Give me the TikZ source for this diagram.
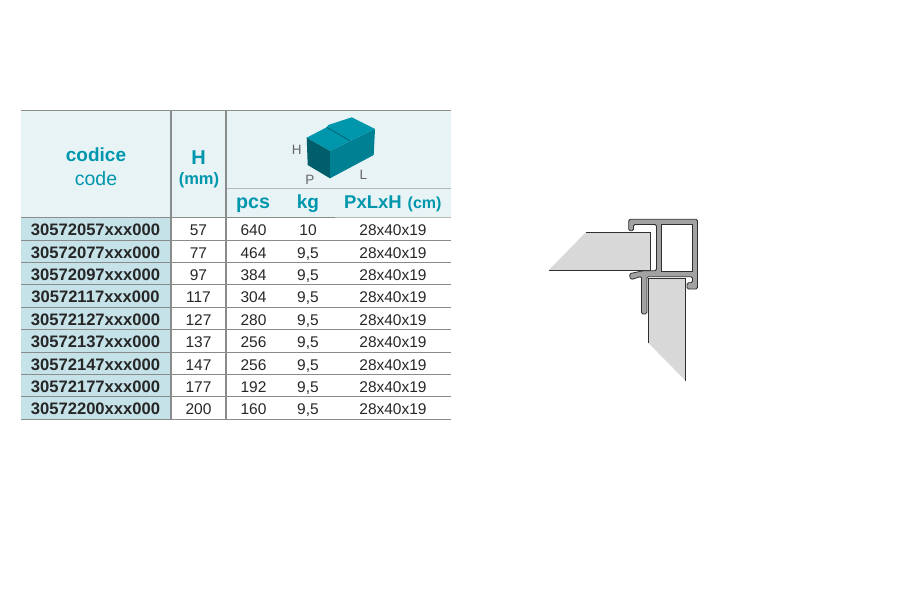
\documentclass[tikz,border=0pt]{standalone}
\usepackage{xcolor}
\usepackage{fontspec}
\setmainfont{Liberation Sans}
\usetikzlibrary{positioning}
\definecolor{teal1}{HTML}{0097AD}
\definecolor{headbg}{HTML}{E8F3F6}
\definecolor{codebg}{HTML}{C5E2E8}
\definecolor{rule1}{HTML}{8A8C8C}
\definecolor{rule2}{HTML}{B5B7B7}
\definecolor{panel}{HTML}{D8D8D8}
\definecolor{metal}{HTML}{A2A2A2}
\definecolor{ink}{HTML}{2F2F2F}

\begin{document}
\begin{tikzpicture}[
    x=1pt, y=-1pt,
    head/.style={inner sep=0pt, anchor=base, text=teal1, font=\bfseries\fontsize{19}{22}\selectfont},
    codecell/.style={inner sep=0pt, anchor=base, text=black!85, font=\bfseries\fontsize{16.6}{19}\selectfont},
    cell/.style={inner sep=0pt, anchor=base, text=black!85, font=\fontsize{15.5}{18}\selectfont},
    boxlabel/.style={inner sep=0pt, text=black!60, font=\fontsize{13.5}{16}\selectfont},
    tablerule/.style={draw=rule1, line width=.9pt},
    glass/.style={fill=panel, draw=none},
    glassedge/.style={draw=ink, line width=.9pt}
]
\useasboundingbox (0,0) rectangle (900,600);

% table backgrounds
\fill[headbg] (21,110) rectangle (451,218);
\fill[codebg] (21,218) rectangle (171,420);

% header
\node[head] (codice) at (96,161.7) {codice};
\node[head, font=\fontsize{19.5}{22}\selectfont] (codeen) at (96,185) {code};
\node[head, font=\bfseries\fontsize{20}{22}\selectfont] (hh) at (198.5,164) {H};
\node[head, font=\bfseries\fontsize{16.5}{20}\selectfont] (mm) at (199,184) {(mm)};
\node[head, font=\bfseries\fontsize{19.7}{22}\selectfont] (pcs) at (253,208) {pcs};
\node[head] (kg) at (308,208) {kg};
\node[head, anchor=base west, font=\bfseries\fontsize{18.5}{22}\selectfont] (pxlxh) at (344,208) {PxLxH};
\node[head, anchor=base west, font=\bfseries\fontsize{16}{20}\selectfont] (cm) at (407.5,208) {(cm)};

% rows
\foreach \code/\hval/\pval/\kval [count=\r] in {
    30572057xxx000/57/640/10,
    30572077xxx000/77/464/{9,5},
    30572097xxx000/97/384/{9,5},
    30572117xxx000/117/304/{9,5},
    30572127xxx000/127/280/{9,5},
    30572137xxx000/137/256/{9,5},
    30572147xxx000/147/256/{9,5},
    30572177xxx000/177/192/{9,5},
    30572200xxx000/200/160/{9,5}} {
    \pgfmathsetmacro{\yrow}{213.3+22.4*\r}
    \pgfmathsetmacro{\yline}{217.6+22.4*\r}
    \node[codecell] (code\r) at (95.5,\yrow) {\code};
    \node[cell] (h\r) at (198.5,\yrow) {\hval};
    \node[cell] (p\r) at (253.5,\yrow) {\pval};
    \node[cell] (k\r) at (308,\yrow) {\kval};
    \node[cell] (d\r) at (393,\yrow) {28x40x19};
    \draw[tablerule] (21,\yline) -- (451,\yline);
}

% table rules
\draw[draw=rule1, line width=1.6pt] (21,110.5) -- (451,110.5);
\draw[draw=rule1, line width=1.6pt] (21,217.5) -- (335,217.5);
\draw[draw=rule2, line width=1.6pt] (335,217.5) -- (451,217.5);
\draw[draw=rule2, line width=1.2pt] (226,188.5) -- (451,188.5);
\draw[draw=rule1, line width=1.6pt] (171,110) -- (171,420);
\draw[draw=rule1, line width=1.2pt] (226,110) -- (226,420);

% carton
\fill[fill=teal1] (306.7,137.7) -- (326.7,127.3) -- (328.3,125) -- (351.7,117.3) -- (375,129) -- (330,151) -- cycle;
\fill[fill=teal1!62!black] (306.7,137.7) -- (330,151) -- (330,178.3) -- (307.7,165) -- cycle;
\fill[fill=teal1!85!black] (330,151) -- (375,129) -- (373.7,155) -- (330,178.3) -- cycle;
\draw[teal1!60!black, line width=.7pt] (326.7,127.3) -- (350,140.7);
\node[boxlabel] (lh) at (296.7,150) {H};
\node[boxlabel] (lp) at (309.8,179.5) {P};
\node[boxlabel] (ll) at (363.3,174.5) {L};

% glass panels
\fill[glass] (586,232) -- (650.7,232) -- (650.7,270) -- (549,270) -- cycle;
\draw[glassedge] (586,232) -- (650.7,232) -- (650.7,270) -- (549,270);
\fill[glass] (648.7,278.7) -- (685.3,278.7) -- (685.3,380.5) -- (648.7,343.3) -- cycle;
\draw[glassedge] (648.7,343.3) -- (648.7,278.7) -- (685.3,278.7) -- (685.3,380.5);

% profile
\draw[fill=metal, draw=ink, line width=.8pt, rounded corners=1.5pt]
    (628.7,230.7) -- (628.7,219.3) -- (697.5,219.3) -- (697.5,289) -- (687,289)
    -- (687,282.7) -- (692.5,282.7) -- (692.5,276.7) -- (646.9,276.7) -- (646.9,314)
    -- (641.5,314) -- (641.5,276.3) -- (630.7,279.7) -- (629.3,273.7) -- (643.3,270.7)
    -- (656.5,270.7) -- (656.5,224.5) -- (633.5,224.5) -- (633.5,230.7) -- cycle;
\draw[fill=white, draw=ink, line width=.8pt] (661.7,224.5) rectangle (692.3,270.9);
\end{tikzpicture}
\end{document}
